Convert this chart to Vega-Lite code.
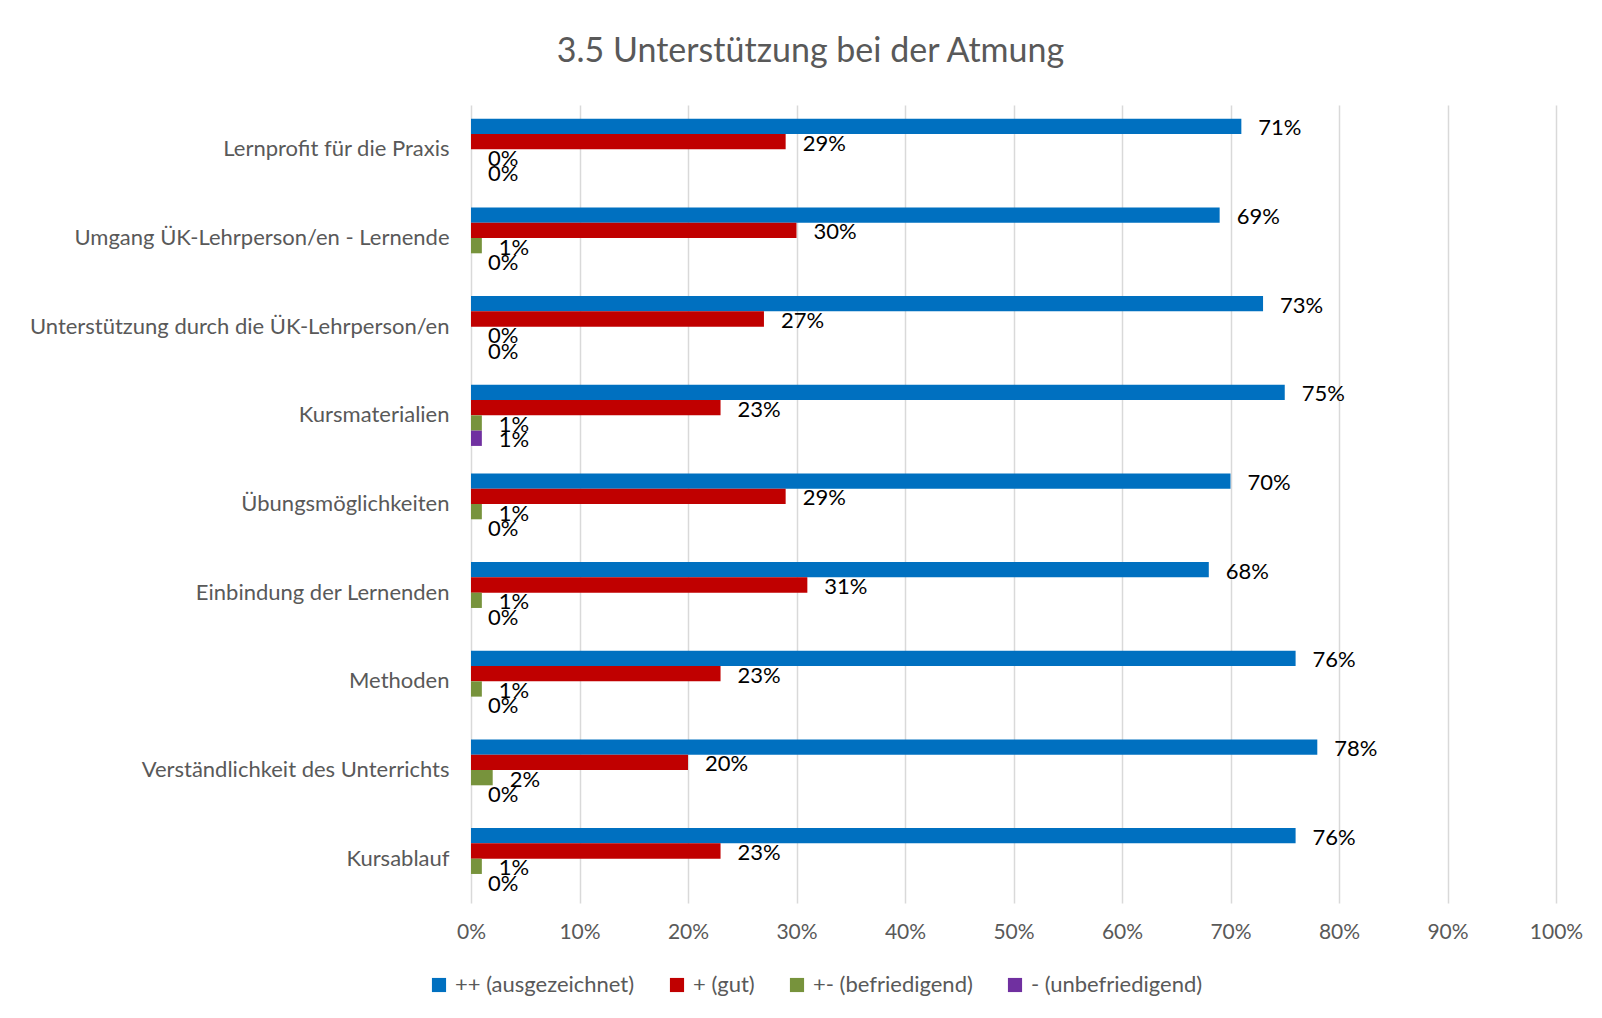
{
  "$schema": "https://vega.github.io/schema/vega-lite/v6.json",
  "width": 1085,
  "height": 798,
  "autosize": "none",
  "padding": {"left": 471, "top": 105, "right": 46, "bottom": 115},
  "background": "white",
  "title": {
    "text": "3.5 Unterstützung bei der Atmung",
    "font": "Lato",
    "fontSize": 34,
    "fontWeight": "normal",
    "color": "#595959",
    "anchor": "middle",
    "offset": 36,
    "dx": -203
  },
  "data": {
    "values": [
      {"kategorie": "Lernprofit für die Praxis", "bewertung": "++ (ausgezeichnet)", "anteil": 0.71},
      {"kategorie": "Lernprofit für die Praxis", "bewertung": "+ (gut)", "anteil": 0.29},
      {"kategorie": "Lernprofit für die Praxis", "bewertung": "+- (befriedigend)", "anteil": 0.0},
      {"kategorie": "Lernprofit für die Praxis", "bewertung": "- (unbefriedigend)", "anteil": 0.0},
      {"kategorie": "Umgang ÜK-Lehrperson/en - Lernende", "bewertung": "++ (ausgezeichnet)", "anteil": 0.69},
      {"kategorie": "Umgang ÜK-Lehrperson/en - Lernende", "bewertung": "+ (gut)", "anteil": 0.30},
      {"kategorie": "Umgang ÜK-Lehrperson/en - Lernende", "bewertung": "+- (befriedigend)", "anteil": 0.01},
      {"kategorie": "Umgang ÜK-Lehrperson/en - Lernende", "bewertung": "- (unbefriedigend)", "anteil": 0.0},
      {"kategorie": "Unterstützung durch die ÜK-Lehrperson/en", "bewertung": "++ (ausgezeichnet)", "anteil": 0.73},
      {"kategorie": "Unterstützung durch die ÜK-Lehrperson/en", "bewertung": "+ (gut)", "anteil": 0.27},
      {"kategorie": "Unterstützung durch die ÜK-Lehrperson/en", "bewertung": "+- (befriedigend)", "anteil": 0.0},
      {"kategorie": "Unterstützung durch die ÜK-Lehrperson/en", "bewertung": "- (unbefriedigend)", "anteil": 0.0},
      {"kategorie": "Kursmaterialien", "bewertung": "++ (ausgezeichnet)", "anteil": 0.75},
      {"kategorie": "Kursmaterialien", "bewertung": "+ (gut)", "anteil": 0.23},
      {"kategorie": "Kursmaterialien", "bewertung": "+- (befriedigend)", "anteil": 0.01},
      {"kategorie": "Kursmaterialien", "bewertung": "- (unbefriedigend)", "anteil": 0.01},
      {"kategorie": "Übungsmöglichkeiten", "bewertung": "++ (ausgezeichnet)", "anteil": 0.70},
      {"kategorie": "Übungsmöglichkeiten", "bewertung": "+ (gut)", "anteil": 0.29},
      {"kategorie": "Übungsmöglichkeiten", "bewertung": "+- (befriedigend)", "anteil": 0.01},
      {"kategorie": "Übungsmöglichkeiten", "bewertung": "- (unbefriedigend)", "anteil": 0.0},
      {"kategorie": "Einbindung der Lernenden", "bewertung": "++ (ausgezeichnet)", "anteil": 0.68},
      {"kategorie": "Einbindung der Lernenden", "bewertung": "+ (gut)", "anteil": 0.31},
      {"kategorie": "Einbindung der Lernenden", "bewertung": "+- (befriedigend)", "anteil": 0.01},
      {"kategorie": "Einbindung der Lernenden", "bewertung": "- (unbefriedigend)", "anteil": 0.0},
      {"kategorie": "Methoden", "bewertung": "++ (ausgezeichnet)", "anteil": 0.76},
      {"kategorie": "Methoden", "bewertung": "+ (gut)", "anteil": 0.23},
      {"kategorie": "Methoden", "bewertung": "+- (befriedigend)", "anteil": 0.01},
      {"kategorie": "Methoden", "bewertung": "- (unbefriedigend)", "anteil": 0.0},
      {"kategorie": "Verständlichkeit des Unterrichts", "bewertung": "++ (ausgezeichnet)", "anteil": 0.78},
      {"kategorie": "Verständlichkeit des Unterrichts", "bewertung": "+ (gut)", "anteil": 0.20},
      {"kategorie": "Verständlichkeit des Unterrichts", "bewertung": "+- (befriedigend)", "anteil": 0.02},
      {"kategorie": "Verständlichkeit des Unterrichts", "bewertung": "- (unbefriedigend)", "anteil": 0.0},
      {"kategorie": "Kursablauf", "bewertung": "++ (ausgezeichnet)", "anteil": 0.76},
      {"kategorie": "Kursablauf", "bewertung": "+ (gut)", "anteil": 0.23},
      {"kategorie": "Kursablauf", "bewertung": "+- (befriedigend)", "anteil": 0.01},
      {"kategorie": "Kursablauf", "bewertung": "- (unbefriedigend)", "anteil": 0.0}
    ]
  },
  "encoding": {
    "y": {
      "field": "kategorie",
      "type": "nominal",
      "sort": null,
      "scale": {"paddingInner": 0.31, "paddingOuter": 0.155},
      "axis": {
        "title": null,
        "ticks": false,
        "domain": false,
        "labelPadding": 22,
        "labelFont": "Lato",
        "labelFontSize": 22,
        "labelColor": "#595959",
        "labelLimit": 500
      }
    },
    "yOffset": {
      "field": "bewertung",
      "type": "nominal",
      "sort": ["++ (ausgezeichnet)", "+ (gut)", "+- (befriedigend)", "- (unbefriedigend)"]
    },
    "x": {
      "field": "anteil",
      "type": "quantitative",
      "scale": {"domain": [0, 1], "nice": false},
      "axis": {
        "title": null,
        "format": ".0%",
        "values": [0, 0.1, 0.2, 0.3, 0.4, 0.5, 0.6, 0.7, 0.8, 0.9, 1.0],
        "grid": true,
        "gridColor": "#d9d9d9",
        "gridWidth": 1.5,
        "domain": false,
        "ticks": false,
        "labelFlush": false,
        "labelPadding": 18,
        "labelFont": "Lato",
        "labelFontSize": 21,
        "labelColor": "#595959"
      }
    }
  },
  "layer": [
    {
      "mark": {"type": "bar"},
      "encoding": {
        "color": {
          "field": "bewertung",
          "type": "nominal",
          "sort": ["++ (ausgezeichnet)", "+ (gut)", "+- (befriedigend)", "- (unbefriedigend)"],
          "scale": {
            "domain": ["++ (ausgezeichnet)", "+ (gut)", "+- (befriedigend)", "- (unbefriedigend)"],
            "range": ["#0070C0", "#C00000", "#77933C", "#7030A0"]
          },
          "legend": {
            "title": null,
            "orient": "none",
            "direction": "horizontal",
            "legendX": -43,
            "legendY": 869,
            "symbolType": "square",
            "symbolSize": 200,
            "symbolStrokeWidth": 0,
            "labelFont": "Lato",
            "labelFontSize": 22,
            "labelColor": "#595959",
            "labelOffset": 5,
            "columnPadding": 31,
            "labelLimit": 400
          }
        }
      }
    },
    {
      "mark": {
        "type": "text",
        "align": "left",
        "baseline": "middle",
        "dx": 17,
        "dy": 2,
        "font": "Lato",
        "fontSize": 22,
        "color": "#000000"
      },
      "encoding": {
        "text": {"field": "anteil", "type": "quantitative", "format": ".0%"}
      }
    }
  ],
  "config": {
    "view": {"stroke": null}
  }
}
